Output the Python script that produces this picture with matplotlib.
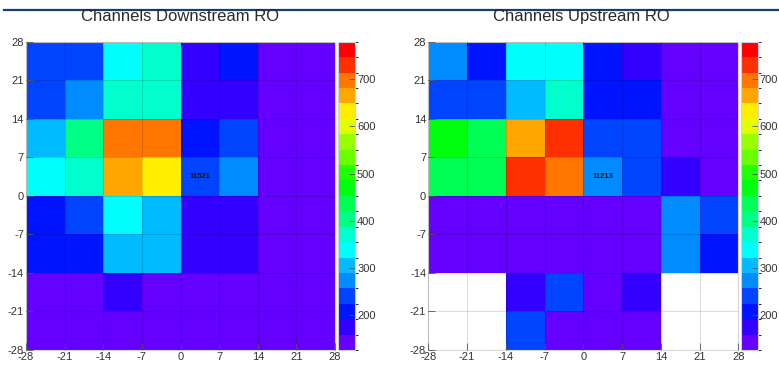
import colorsys

import matplotlib
matplotlib.use("Agg")
import matplotlib.pyplot as plt
import numpy as np
from matplotlib.colors import BoundaryNorm, ListedColormap
from matplotlib.lines import Line2D

plt.rcParams["font.family"] = ["Liberation Sans", "DejaVu Sans"]
plt.rcParams["axes.unicode_minus"] = False

# bin edges (mm) and z range shared by both panels
edges = np.arange(-28, 29, 7)
ticks = [-28, -21, -14, -7, 0, 7, 14, 21, 28]
zmin, zmax = 125, 780
cbar_ticks = [200, 300, 400, 500, 600, 700]

# bin contents, rows listed from top (y=21..28) to bottom (y=-28..-21)
downstream = [
    [240, 240, 338, 371, 174, 207, 141, 141],
    [240, 272, 371, 371, 174, 174, 141, 141],
    [305, 403, 699, 699, 207, 240, 141, 141],
    [338, 371, 666, 633, 240, 272, 141, 141],
    [207, 240, 338, 305, 174, 174, 141, 141],
    [207, 207, 305, 305, 174, 174, 141, 141],
    [141, 141, 174, 141, 141, 141, 141, 141],
    [141, 141, 141, 141, 141, 141, 141, 141],
]
upstream = [
    [272, 207, 338, 338, 207, 174, 141, 141],
    [240, 240, 305, 371, 207, 207, 141, 141],
    [469, 436, 666, 731, 240, 240, 141, 141],
    [436, 436, 731, 699, 272, 240, 174, 141],
    [141, 141, 141, 141, 141, 141, 272, 240],
    [141, 141, 141, 141, 141, 141, 272, 207],
    [np.nan, np.nan, 174, 240, 141, 174, np.nan, np.nan],
    [np.nan, np.nan, 240, 141, 141, 141, np.nan, np.nan],
]
entries = [11521, 11213]
titles = ["Channels Downstream RO", "Channels Upstream RO"]


def root_palette(ndiv=20):
    # old ROOT "pretty" palette: 50 HLS colours violet -> red, sampled for ndiv contours
    hues = [280 - (i + 1) * 280 / 50 for i in range(50)]
    cols = []
    for i in range(ndiv):
        idx = int((i + 0.99) * 50 / ndiv)
        cols.append(colorsys.hls_to_rgb(hues[idx] / 360, 0.5, 1.0))
    return cols


cmap = ListedColormap(root_palette())
cmap.set_bad((1, 1, 1, 0))
bounds = np.linspace(zmin, zmax, 21)
norm = BoundaryNorm(bounds, cmap.N)

fig = plt.figure(figsize=(7.79, 3.75), dpi=100)
fig.add_artist(Line2D([0.005, 1.0], [0.973, 0.973], color="#1d3d6b", lw=1.6))

ax_pos = [[0.0334, 0.0667, 0.3967, 0.822], [0.5498, 0.0667, 0.398, 0.822]]
cb_pos = [[0.4339, 0.0667, 0.0218, 0.822], [0.9508, 0.0667, 0.0218, 0.822]]
title_x = [0.231, 0.746]

for k, data in enumerate([downstream, upstream]):
    ax = fig.add_axes(ax_pos[k])
    z = np.ma.masked_invalid(np.array(data, dtype=float)[::-1])
    mesh = ax.pcolormesh(edges, edges, z, cmap=cmap, norm=norm)
    ax.set_xlim(-28, 28)
    ax.set_ylim(-28, 28)
    ax.set_xticks(ticks)
    ax.set_yticks(ticks)
    ax.grid(True, color="black", alpha=0.13, lw=0.8)
    ax.set_axisbelow(False)
    ax.tick_params(direction="in", length=5, width=0.6, color="#555555",
                   labelsize=8, labelcolor="#333333", pad=1.5)
    for s in ax.spines.values():
        s.set_color("#d8d8d8")
        s.set_linewidth(0.8)
    ax.text(3.5, 3.5, str(entries[k]), ha="center", va="center",
            fontsize=5.5, fontweight="bold", color="#111111")
    fig.text(title_x[k], 0.955, titles[k], ha="center", va="center",
             fontsize=12, color="#2a2a2a")

    cax = fig.add_axes(cb_pos[k])
    cb = fig.colorbar(mesh, cax=cax, boundaries=bounds, ticks=cbar_ticks)
    cb.outline.set_edgecolor("#cfcfe8")
    cb.outline.set_linewidth(0.8)
    cax.tick_params(direction="in", length=4, width=0.6, color="#555555",
                    labelsize=8, labelcolor="#333333", pad=1.5)

fig.savefig("out.png", dpi=100)
